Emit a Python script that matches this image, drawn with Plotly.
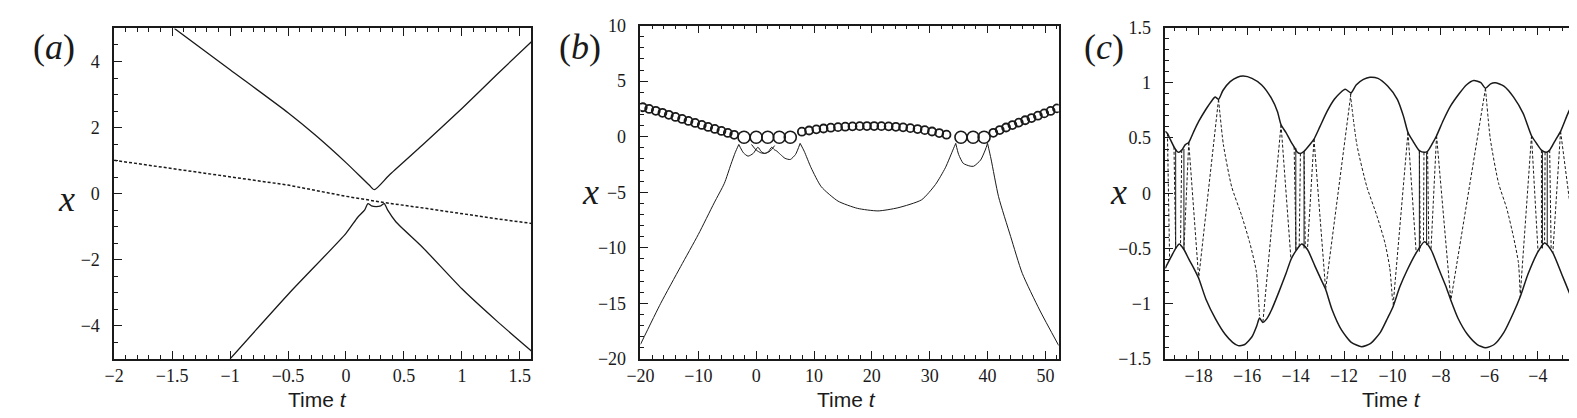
import plotly.graph_objects as go

W, H = 1577, 418
INK = "#1a1a1a"
SERIF = "Liberation Serif, Times New Roman, serif"

# ---------------- panel (a) ----------------
a_dash_t = [-2.0, -1.5, -1.0, -0.5, 0.0, 0.24, 0.33, 0.7, 1.0, 1.3, 1.6]
a_dash_x = [1.01, 0.76, 0.5, 0.26, -0.08, -0.22, -0.27, -0.45, -0.61, -0.76, -0.9]
a_up_t = [-1.48, -1.0, -0.5, -0.26, 0.0, 0.2, 0.245, 0.37, 0.66, 1.0, 1.3, 1.6]
a_up_x = [5.0, 3.75, 2.45, 1.76, 0.94, 0.26, 0.12, 0.55, 1.47, 2.58, 3.6, 4.6]
a_lo_t = [-1.0, -0.5, 0.0, 0.1, 0.16, 0.19, 0.22, 0.26, 0.3, 0.33, 0.36, 0.43, 0.66, 1.0, 1.3, 1.6]
a_lo_x = [-5.0, -3.05, -1.2, -0.72, -0.5, -0.3, -0.37, -0.39, -0.37, -0.3, -0.5, -0.85, -1.62, -2.88, -3.85, -4.76]

# ---------------- panel (b) ----------------
b_left_t = [-20.0, -16.5, -13.06, -10.0, -7.26, -5.5, -4.37, -3.6, -3.0]
b_left_x = [-18.7, -15.0, -11.7, -8.8, -5.96, -4.2, -2.5, -1.4, -0.7]
b_w_t = [-3.0, -2.2, -1.4, -0.5, 0.3, 0.9, 1.45, 2.1, 2.7, 3.2, 3.45, 4.2, 5.0, 5.9, 6.8, 7.6]
b_w_x = [-0.7, -1.45, -1.75, -1.5, -0.95, -1.35, -1.5, -1.35, -0.95, -1.2, -1.25, -1.6, -1.95, -2.05, -1.6, -0.6]
b_arc_t = [-0.8, 0.0, 0.8, 1.6, 2.4, 3.2]
b_arc_x = [-0.7, -1.2, -1.45, -1.5, -1.3, -0.8]
b_big_t = [7.6, 8.3, 9.5, 11.25, 14.15, 17.5, 21.06, 24.5, 28.6, 31.0, 32.7, 34.1, 34.5]
b_big_x = [-0.6, -1.3, -2.8, -4.5, -5.8, -6.45, -6.68, -6.4, -5.68, -4.3, -2.8, -1.08, -0.6]
b_u_t = [34.5, 35.0, 35.8, 37.0, 37.6, 38.8, 39.6, 40.0]
b_u_x = [-0.6, -1.6, -2.4, -2.65, -2.66, -2.1, -1.2, -0.6]
b_right_t = [40.0, 40.6, 41.9, 44.0, 46.0, 49.0, 52.3]
b_right_x = [-0.6, -2.0, -5.4, -9.0, -12.3, -15.6, -18.8]

# loop centres along the upper chain
b_small_t = [-19.6, -18.5, -17.35, -16.2, -15.1, -13.95, -12.8, -11.7, -10.55, -9.4, -8.3,
             -7.15, -6.0, -4.9, -3.8,
             7.9, 9.15, 10.4, 11.65, 12.9, 14.15, 15.4, 16.65, 17.9, 19.15, 20.4, 21.65,
             22.9, 24.15, 25.4, 26.65, 27.9, 29.15, 30.4, 31.65, 32.9,
             41.0, 42.1, 43.2, 44.3, 45.4, 46.5, 47.6, 48.7, 49.8, 50.9, 52.0]
b_small_x = [2.65, 2.5, 2.33, 2.15, 1.97, 1.78, 1.6, 1.42, 1.24, 1.06, 0.88,
             0.7, 0.52, 0.34, 0.17,
             0.45, 0.56, 0.66, 0.74, 0.81, 0.86, 0.9, 0.93, 0.95, 0.96, 0.96, 0.95,
             0.93, 0.89, 0.84, 0.77, 0.69, 0.59, 0.47, 0.33, 0.18,
             0.35, 0.6, 0.83, 1.05, 1.27, 1.48, 1.68, 1.89, 2.1, 2.32, 2.55]
b_big_loop_t = [-2.1, 0.0, 2.0, 4.0, 5.9, 35.4, 37.5, 39.4]
b_big_loop_x = [-0.05, -0.05, -0.05, -0.05, -0.05, -0.05, -0.05, -0.05]

# ---------------- panel (c) ----------------
c_up_t = [-19.38, -19.29, -19.2, -19.02, -18.9, -18.82, -18.7, -18.55, -18.41, -18.2, -18.0,
          -17.7, -17.45, -17.32, -17.18, -17.0, -16.7, -16.4, -16.16, -15.8, -15.4, -15.0,
          -14.75, -14.6, -14.4, -14.2, -14.06, -13.92, -13.8, -13.65, -13.45, -13.24, -13.0,
          -12.7, -12.4, -12.15, -11.95, -11.71, -11.5, -11.2, -10.93, -10.6, -10.2, -9.8,
          -9.55, -9.36, -9.15, -8.89, -8.68, -8.55, -8.35, -8.18, -7.9, -7.6, -7.25, -6.95,
          -6.64, -6.35, -6.16, -5.95, -5.76, -5.4, -5.0, -4.6, -4.26, -4.05, -3.85, -3.65,
          -3.51, -3.3, -3.06, -2.8, -2.6, -2.42]
c_up_x = [0.56, 0.54, 0.5, 0.42, 0.38, 0.37, 0.39, 0.44, 0.46, 0.56, 0.65,
          0.76, 0.84, 0.87, 0.85, 0.93, 1.01, 1.05, 1.06, 1.04, 0.98, 0.86,
          0.74, 0.62, 0.55, 0.47, 0.42, 0.37, 0.36, 0.38, 0.43, 0.49, 0.6,
          0.74, 0.85, 0.91, 0.94, 0.91, 0.98, 1.03, 1.05, 1.04, 0.97, 0.85,
          0.7, 0.55, 0.47, 0.385, 0.37, 0.38, 0.45, 0.52, 0.66, 0.79, 0.9, 0.98,
          1.02, 1.0, 0.95, 0.99, 1.0, 0.97, 0.87, 0.72, 0.52, 0.45, 0.39, 0.37,
          0.39, 0.47, 0.56, 0.7, 0.8, 0.9]
c_lo_t = [-19.38, -19.29, -19.1, -18.95, -18.8, -18.61, -18.4, -18.2, -18.0, -17.7, -17.3,
          -16.9, -16.6, -16.37, -16.1, -15.8, -15.6, -15.49, -15.35, -15.2, -15.0, -14.7,
          -14.4, -14.19, -13.98, -13.75, -13.51, -13.2, -12.95, -12.76, -12.5, -12.1, -11.7,
          -11.27, -10.9, -10.5, -10.2, -9.98, -9.7, -9.4, -9.02, -8.68, -8.41, -8.1, -7.8,
          -7.59, -7.3, -6.9, -6.5, -6.16, -5.8, -5.4, -5.0, -4.73, -4.4, -3.99, -3.71,
          -3.38, -3.0, -2.7, -2.42]
c_lo_x = [-0.68, -0.64, -0.56, -0.5, -0.46, -0.51, -0.6, -0.68, -0.77, -0.96, -1.14,
          -1.28, -1.35, -1.38, -1.37, -1.3, -1.2, -1.13, -1.17, -1.14, -1.06, -0.9,
          -0.73, -0.6, -0.52, -0.46, -0.51, -0.66, -0.78, -0.87, -1.05, -1.24, -1.35,
          -1.39, -1.36, -1.26, -1.13, -1.03, -0.85, -0.7, -0.54, -0.44, -0.51, -0.68, -0.84,
          -0.97, -1.13, -1.28, -1.37, -1.4, -1.37, -1.26, -1.08, -0.94, -0.73, -0.53, -0.45,
          -0.54, -0.74, -0.9, -1.04]
# short solid verticals in the narrow cells
c_vert_t = [-18.95, -18.61, -13.99, -13.65, -8.89, -8.59, -3.81, -3.61]
c_vert_top = [0.4, 0.4, 0.41, 0.38, 0.385, 0.37, 0.38, 0.37]
c_vert_bot = [-0.5, -0.51, -0.52, -0.5, -0.53, -0.47, -0.5, -0.46]
# straight dashed segments (start t, start x, end t, end x)
c_seg_t0 = [-19.29, -19.02, -18.7, -18.41, -18.41, -17.18, -14.6,
            -14.6, -14.06, -13.8, -13.65, -13.24, -13.24, -11.71, -9.36,
            -9.36, -8.89, -8.7, -8.55, -8.18, -8.18, -6.16, -4.26,
            -4.26, -3.85, -3.7, -3.51, -3.06, -3.06]
c_seg_x0 = [0.54, 0.42, 0.39, 0.46, 0.46, 0.85, 0.62,
            0.62, 0.42, 0.36, 0.38, 0.49, 0.49, 0.91, 0.55,
            0.55, 0.385, 0.37, 0.38, 0.52, 0.52, 0.95, 0.52,
            0.52, 0.39, 0.37, 0.39, 0.56, 0.56]
c_seg_t1 = [-19.2, -18.95, -18.75, -18.61, -18.0, -18.0, -15.35,
            -14.19, -13.98, -13.85, -13.6, -13.51, -12.76, -12.76, -9.98,
            -9.02, -8.85, -8.72, -8.5, -8.41, -7.59, -7.59, -4.73,
            -3.99, -3.85, -3.72, -3.45, -3.38, -2.42]
c_seg_x1 = [-0.6, -0.5, -0.48, -0.51, -0.77, -0.77, -1.17,
            -0.6, -0.52, -0.49, -0.49, -0.51, -0.87, -0.87, -1.03,
            -0.54, -0.5, -0.45, -0.48, -0.51, -0.97, -0.97, -0.94,
            -0.53, -0.5, -0.45, -0.5, -0.54, -0.53]
# long S-shaped dashed curves
c_s1_t = [-17.18, -16.98, -16.64, -16.23, -15.89, -15.62, -15.49]
c_s1_x = [0.85, 0.44, 0.06, -0.2, -0.45, -0.71, -1.11]
c_s2_t = [-11.74, -11.47, -11.06, -10.65, -10.31, -10.11, -10.0]
c_s2_x = [0.9, 0.44, 0.06, -0.2, -0.45, -0.68, -0.97]
c_s3_t = [-6.16, -5.96, -5.62, -5.28, -5.0, -4.8, -4.73]
c_s3_x = [0.95, 0.49, 0.09, -0.14, -0.4, -0.63, -0.91]


def line(t, x, ax, dash="solid", width=1.3, shape="linear"):
    return go.Scatter(x=t, y=x, mode="lines", xaxis="x" + ax, yaxis="y" + ax,
                      line=dict(color=INK, width=width, dash=dash, shape=shape, smoothing=0.6),
                      hoverinfo="skip", showlegend=False)


fig = go.Figure()

# (a)
fig.add_trace(line(a_dash_t, a_dash_x, "", dash="3px,2px", width=1.5))
fig.add_trace(line(a_up_t, a_up_x, "", shape="spline"))
fig.add_trace(line(a_lo_t, a_lo_x, "", shape="spline"))

# (b)
for tt, xx in [(b_left_t, b_left_x), (b_w_t, b_w_x), (b_arc_t, b_arc_x),
               (b_big_t, b_big_x), (b_u_t, b_u_x), (b_right_t, b_right_x)]:
    fig.add_trace(line(tt, xx, "2", width=1.0, shape="spline"))
fig.add_trace(go.Scatter(x=b_small_t, y=b_small_x, mode="markers", xaxis="x2", yaxis="y2",
                         marker=dict(symbol="circle-open", size=8, color=INK,
                                     line=dict(width=1.8, color=INK)),
                         hoverinfo="skip", showlegend=False))
fig.add_trace(go.Scatter(x=b_big_loop_t, y=b_big_loop_x, mode="markers", xaxis="x2", yaxis="y2",
                         marker=dict(symbol="circle-open", size=12, color=INK,
                                     line=dict(width=1.6, color=INK)),
                         hoverinfo="skip", showlegend=False))

# (c)
fig.add_trace(line(c_up_t, c_up_x, "3", width=1.5, shape="spline"))
fig.add_trace(line(c_lo_t, c_lo_x, "3", width=1.5, shape="spline"))
vt, vx = [], []
for t, top, bot in zip(c_vert_t, c_vert_top, c_vert_bot):
    vt += [t, t, None]
    vx += [top, bot, None]
fig.add_trace(line(vt, vx, "3", width=1.0))
st, sx = [], []
for t0, x0, t1, x1 in zip(c_seg_t0, c_seg_x0, c_seg_t1, c_seg_x1):
    st += [t0, t1, None]
    sx += [x0, x1, None]
fig.add_trace(line(st, sx, "3", dash="3px,2px", width=1.0))
for tt, xx in [(c_s1_t, c_s1_x), (c_s2_t, c_s2_x), (c_s3_t, c_s3_x)]:
    fig.add_trace(line(tt, xx, "3", dash="3px,2px", width=1.0, shape="spline"))


def axis(domain, rng, dtick, minor, anchor, mirror, standoff):
    return dict(domain=domain, range=rng, anchor=anchor, dtick=dtick, tick0=0,
                showline=True, mirror=mirror, linecolor=INK, linewidth=1.5,
                ticks="inside", ticklen=8, tickwidth=1.2, tickcolor=INK,
                minor=dict(dtick=minor, ticks="inside", ticklen=4, tickwidth=1, tickcolor=INK),
                showgrid=False, zeroline=False, ticklabelstandoff=standoff,
                ticklabeloverflow="allow",
                tickfont=dict(family=SERIF, size=18, color=INK))


def px_x(a, b):
    return [a / W, b / W]


def px_y(top, bot):
    return [1 - bot / H, 1 - top / H]


fig.update_layout(
    width=W, height=H, margin=dict(l=0, r=0, t=0, b=0),
    paper_bgcolor="white", plot_bgcolor="white",
    xaxis=axis(px_x(93, 514), [-2, 1.6], 0.5, 0.1, "y", "ticks", 0),
    yaxis=axis(px_y(11, 358), [-5, 5], 2, 0.5, "x", True, 9),
    xaxis2=axis(px_x(624, 1046), [-20, 52.3], 10, 2, "y2", "ticks", 0),
    yaxis2=axis(px_y(8, 358), [-20, 10], 5, 1, "x2", True, 9),
    xaxis3=axis(px_x(1153.5, 1568), [-19.38, -2.42], 2, 0.5, "y3", "ticks", 0),
    yaxis3=axis(px_y(10, 358), [-1.5, 1.5], 0.5, 0.1, "x3", True, 9),
)

notes = [
    ("(<i>a</i>)", 32, 30, SERIF, 36),
    ("(<i>b</i>)", 563, 30, SERIF, 36),
    ("(<i>c</i>)", 1092, 30, SERIF, 36),
    ("<i>x</i>", 45, 190, SERIF, 36),
    ("<i>x</i>", 574, 183, SERIF, 36),
    ("<i>x</i>", 1106, 183, SERIF, 36),
    ("Time <i>t</i>", 298, 401, "Liberation Sans", 21),
    ("Time <i>t</i>", 832, 401, "Liberation Sans", 21),
    ("Time <i>t</i>", 1382, 401, "Liberation Sans", 21),
]
for text, x, y, fam, size in notes:
    fig.add_annotation(text=text, x=x / W, y=1 - y / H, xref="paper", yref="paper",
                       showarrow=False, xanchor="center", yanchor="middle",
                       font=dict(family=fam, size=size, color=INK))

fig.write_html("out.html")
